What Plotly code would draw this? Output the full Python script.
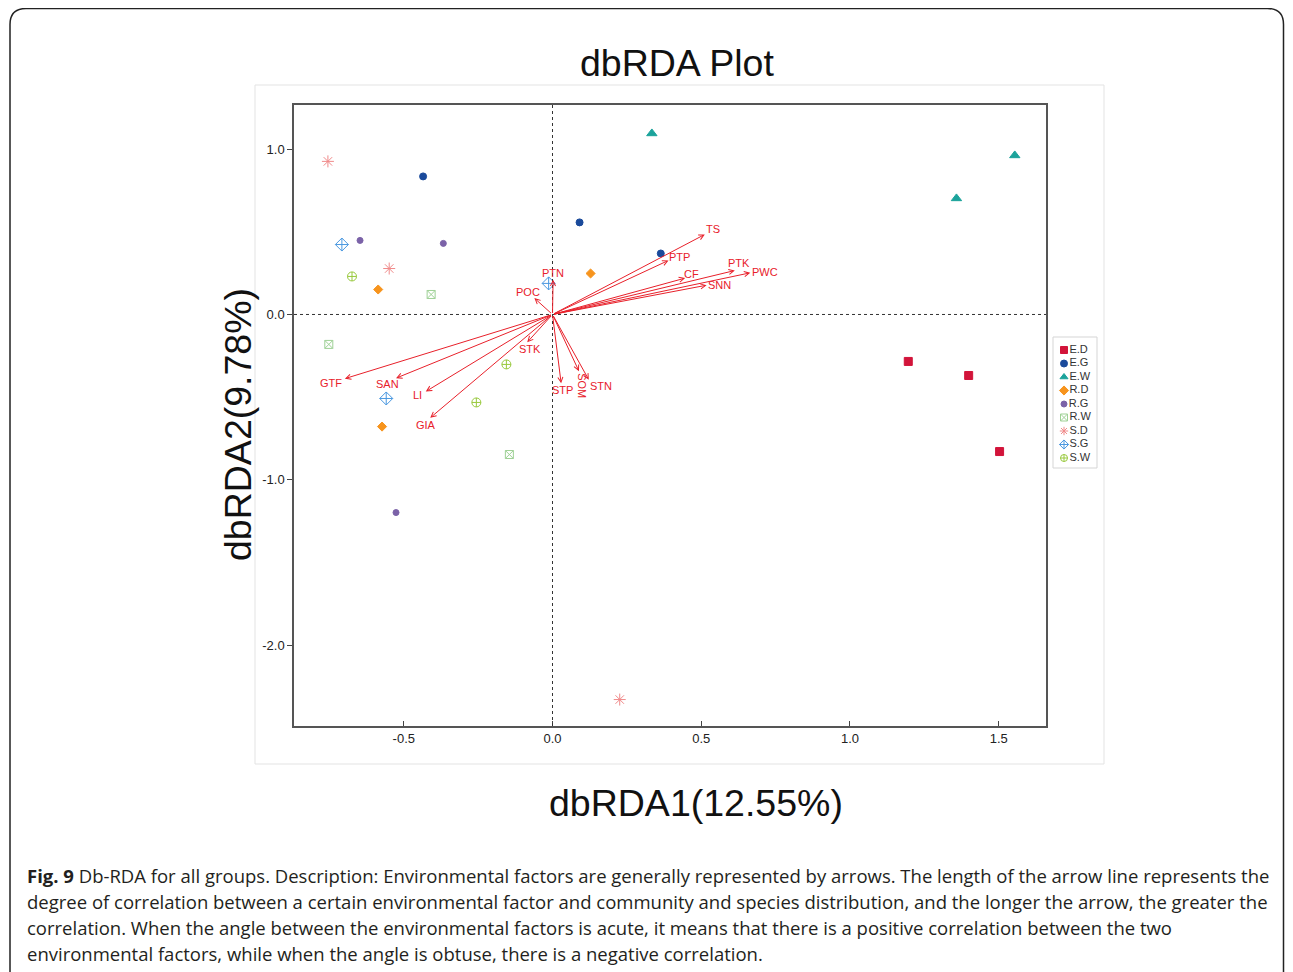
import plotly.graph_objects as go

# ---------------- data ----------------
groups = ["E.D", "E.G", "E.W", "R.D", "R.G", "R.W", "S.D", "S.G", "S.W"]
dbrda1 = [
    [1.196, 1.399, 1.503],
    [-0.435, 0.091, 0.364],
    [0.334, 1.358, 1.554],
    [0.128, -0.586, -0.573],
    [-0.647, -0.367, -0.526],
    [-0.408, -0.752, -0.145],
    [-0.755, -0.549, 0.226],
    [-0.708, -0.013, -0.559],
    [-0.674, -0.155, -0.256],
]
dbrda2 = [
    [-0.284, -0.369, -0.829],
    [0.835, 0.557, 0.369],
    [1.095, 0.702, 0.962],
    [0.248, 0.151, -0.678],
    [0.448, 0.430, -1.198],
    [0.121, -0.181, -0.847],
    [0.926, 0.278, -2.329],
    [0.423, 0.188, -0.508],
    [0.230, -0.302, -0.532],
]
env_factors = ["TS", "PTP", "CF", "PTK", "PWC", "SNN", "PTN", "POC", "STK",
               "STP", "SOM", "STN", "GTF", "SAN", "LI", "GIA"]
env_x = [0.512, 0.390, 0.446, 0.613, 0.665, 0.518, 0.002, -0.061, -0.085,
         0.029, 0.089, 0.122, -0.698, -0.526, -0.426, -0.411]
env_y = [0.484, 0.327, 0.220, 0.266, 0.252, 0.177, 0.210, 0.099, -0.168,
         -0.416, -0.343, -0.395, -0.388, -0.385, -0.466, -0.625]

x_ticks = [-0.5, 0.0, 0.5, 1.0, 1.5]
y_ticks = [1.0, 0.0, -1.0, -2.0]

caption_lines = [
    "<b>Fig. 9</b> Db-RDA for all groups. Description: Environmental factors are generally represented by arrows. The length of the arrow line represents the",
    "degree of correlation between a certain environmental factor and community and species distribution, and the longer the arrow, the greater the",
    "correlation. When the angle between the environmental factors is acute, it means that there is a positive correlation between the two",
    "environmental factors, while when the angle is obtuse, there is a negative correlation.",
]

# ---------------- styles ----------------
OFF = 8                      # page body margin
W, H = 1293 - OFF, 972 - OFF
symbols = ["square", "circle", "triangle-up", "diamond", "circle",
           "square-x-open", "asterisk-open", "diamond-cross-open", "circle-cross-open"]
colors = ["#d2143a", "#1a4a9b", "#1ba39b", "#f7941d", "#7b62a8",
          "#9fd196", "#f08a8a", "#4a98e0", "#98c93c"]
sizes = [8, 7, 9, 7, 6, 8, 10, 10, 9]
RED = "#e8202a"
label_offsets = {  # pixel offsets of labels from arrow tips
    "TS": (8, 5), "PTP": (11, 3), "CF": (6, 4), "PTK": (4, 8), "PWC": (15, 1),
    "SNN": (13, 0), "PTN": (0, 7), "POC": (-6, 6), "STK": (3, -7), "STP": (1, -7),
    "SOM": (3, -15), "STN": (12, -6), "GTF": (-14, -4), "SAN": (-9, -6),
    "LI": (-8, -3), "GIA": (-4, -7),
}

def px(x):
    return (x - OFF) / W

def py(y):
    return 1 - (y - OFF) / H

fig = go.Figure()

# sample points
for g, xs, ys, sym, col, sz in zip(groups, dbrda1, dbrda2, symbols, colors, sizes):
    fig.add_trace(go.Scatter(
        x=xs, y=ys, mode="markers", name=g, showlegend=False,
        marker=dict(symbol=sym, color=col, size=sz, line=dict(color=col, width=1)),
        xaxis="x", yaxis="y"))

# custom legend
for i, (g, sym, col, sz) in enumerate(zip(groups, symbols, colors, sizes)):
    fig.add_trace(go.Scatter(
        x=[0.25], y=[i], mode="markers+text", text=[g], textposition="middle right",
        textfont=dict(family="Liberation Sans, Arial", size=11, color="#333"),
        marker=dict(symbol=sym, color=col, size=min(sz, 7), line=dict(color=col, width=1)),
        showlegend=False, xaxis="x2", yaxis="y2", hoverinfo="skip"))

annotations = []
# arrows
for name, ex, ey in zip(env_factors, env_x, env_y):
    annotations.append(dict(
        x=ex, y=ey, ax=0, ay=0, xref="x", yref="y", axref="x", ayref="y",
        showarrow=True, arrowhead=5, arrowsize=1, arrowwidth=1, arrowcolor=RED, text=""))
    dx, dy = label_offsets[name]
    annotations.append(dict(
        x=ex, y=ey, xref="x", yref="y", text=name, showarrow=False,
        xshift=dx, yshift=dy, textangle=90 if name == "SOM" else 0,
        font=dict(family="Liberation Sans, Arial", size=11, color=RED)))

# titles
big = dict(family="Liberation Sans, Arial", size=37.5, color="#111")
annotations.append(dict(x=px(677), y=py(40), xref="paper", yref="paper", text="dbRDA Plot",
                        showarrow=False, font=big))
annotations.append(dict(x=px(696), y=py(826), xref="paper", yref="paper", text="dbRDA1(12.55%)",
                        showarrow=False, font=big))
annotations.append(dict(x=px(215), y=py(425), xref="paper", yref="paper", text="dbRDA2(9.78%)",
                        textangle=-90, showarrow=False, font=big))
# caption
for i, line in enumerate(caption_lines):
    annotations.append(dict(x=px(25), y=py(875 + 26 * i), xref="paper", yref="paper", text=line,
                            xanchor="left", yanchor="middle", showarrow=False, align="left",
                            font=dict(family="Open Sans", size=18.5, color="#231f20")))

shapes = []
# zero lines (dotted)
shapes.append(dict(type="line", xref="x", yref="y domain", x0=0, x1=0, y0=0, y1=1,
                   line=dict(color="#333", width=1, dash="dot")))
shapes.append(dict(type="line", xref="x domain", yref="y", x0=0, x1=1, y0=0, y1=0,
                   line=dict(color="#333", width=1, dash="dot")))
# inner light grey panel
shapes.append(dict(type="rect", xref="paper", yref="paper", x0=px(255), x1=px(1104),
                   y0=py(764), y1=py(85), line=dict(color="#e3e3e3", width=1)))
# legend box
shapes.append(dict(type="rect", xref="paper", yref="paper", x0=px(1053), x1=px(1097),
                   y0=py(468), y1=py(337), line=dict(color="#d5d5d5", width=1)))
# outer rounded border
L, T, R, B, r = 10, 8.5, 1283.5, 975, 16
path = (f"M {px(L)},{py(B)} L {px(L)},{py(T + r)} Q {px(L)},{py(T)} {px(L + r)},{py(T)} "
        f"L {px(R - r)},{py(T)} Q {px(R)},{py(T)} {px(R)},{py(T + r)} L {px(R)},{py(B)}")
shapes.append(dict(type="path", xref="paper", yref="paper", path=path,
                   line=dict(color="#222", width=1.5)))

tickfont = dict(family="Liberation Sans, Arial", size=13, color="#222")
fig.update_layout(
    width=W, height=H, margin=dict(l=0, r=0, t=0, b=0),
    paper_bgcolor="white", plot_bgcolor="white",
    xaxis=dict(domain=[px(294), px(1046)], range=[-0.869, 1.659], tickvals=x_ticks,
               ticktext=[f"{v:.1f}" for v in x_ticks], ticks="inside", ticklen=5, tickcolor="#444",
               showline=True, mirror=True, linecolor="#555", linewidth=1.5,
               showgrid=False, zeroline=False, tickfont=tickfont),
    yaxis=dict(domain=[py(726), py(105)], range=[-2.489, 1.267], tickvals=y_ticks,
               ticktext=[f"{v:.1f}" for v in y_ticks], ticks="outside", ticklen=5, tickcolor="#444",
               showline=True, mirror=True, linecolor="#555", linewidth=1.5,
               showgrid=False, zeroline=False, tickfont=tickfont),
    xaxis2=dict(domain=[px(1053), px(1097)], range=[0, 1], anchor="y2", showgrid=False,
                zeroline=False, showline=False, showticklabels=False, ticks="", fixedrange=True),
    yaxis2=dict(domain=[py(468), py(337)], range=[8.74, -0.963], anchor="x2", showgrid=False,
                zeroline=False, showline=False, showticklabels=False, ticks="", fixedrange=True),
    annotations=annotations, shapes=shapes,
)

fig.write_html("out.html")
